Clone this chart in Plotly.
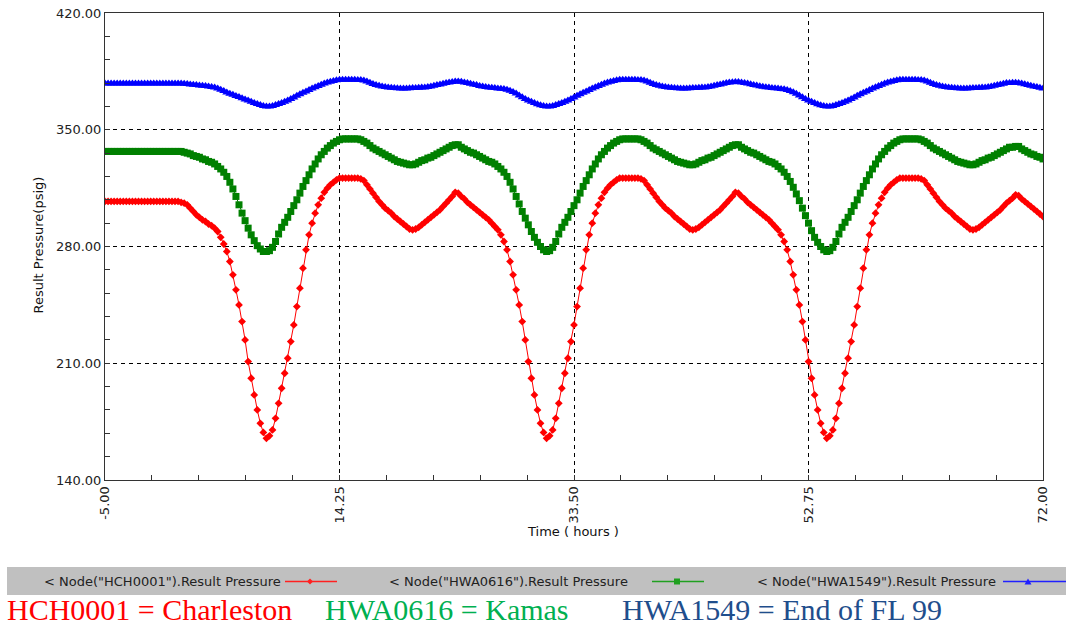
import plotly.graph_objects as go

# ---------------- data (0.25 h sampling) ----------------
T_START = -5.0
T_STEP = 0.25

# HCH0001 (red)
red_flat = [307, 307, 307, 307, 307, 307, 307, 307, 307, 307, 307, 307, 307,
            307, 307, 307, 307, 307, 307, 307, 307, 307, 307, 307, 307]
red_pre = [306.5, 306, 305, 303, 301, 299, 297.5, 296, 295, 293.5, 292.5, 291, 289,
           285.5, 281.5, 277, 271, 263, 254, 245, 235, 224, 211, 201, 191, 182, 174, 168.5]
red_day1 = [165, 166.5, 170, 177, 186, 195, 204, 213, 223, 233, 244, 255, 267, 278, 287, 294,
            300, 305, 309, 312.5, 315, 317, 318.5, 320, 321, 321, 321, 321, 321, 321, 321, 320.5,
            319.5, 317, 314.5, 312, 309.5, 307, 305, 303, 301.5, 300, 298, 296.5, 295, 293.5, 292, 290.5,
            290, 290.5, 291.5, 293, 294.5, 296, 297.5, 299, 300.5, 302, 304, 306, 308, 310, 312.5, 312,
            310, 308.5, 306.5, 305, 303.5, 302, 300.5, 299, 297.5, 296, 294, 292, 290, 287, 283, 278,
            271, 263, 254, 245, 235, 224, 211, 201, 191, 182, 174, 168.5]
red_day2 = [165, 166.5, 170, 177, 186, 195, 204, 213, 223, 233, 244, 255, 267, 278, 287, 294,
            300, 305, 309, 312.5, 315, 317, 318.5, 320, 321, 321, 321, 321, 321, 321, 321, 320.5,
            319.5, 317, 314.5, 312, 309.5, 307, 305, 303, 301.5, 300, 298, 296.5, 295, 293.5, 292, 290.5,
            290, 290.5, 291.5, 293, 294.5, 296, 297.5, 299, 300.5, 302, 304, 306, 308, 310, 312.5, 312,
            310, 308.5, 306.5, 305, 303.5, 302, 300.5, 299, 297.5, 296, 294, 292, 290, 287, 283, 278,
            271, 263, 254, 245, 235, 224, 211, 201, 191, 182, 174, 168.5]
red_day3 = [165, 166.5, 170, 177, 186, 195, 204, 213, 223, 233, 244, 255, 267, 278, 287, 294,
            300, 305, 309, 312.5, 315, 317, 318.5, 320, 321, 321, 321, 321, 321, 321, 321, 320.5,
            319.5, 317, 314.5, 312, 309.5, 307, 305, 303, 301.5, 300, 298, 296.5, 295, 293.5, 292, 290.5,
            290, 290.5, 291.5, 293, 294.5, 296, 297.5, 299, 300.5, 302, 304, 306, 307.5, 309, 311, 310.5,
            308.5, 307, 305.5, 304, 302.5, 301, 299.5, 298]

# HWA0616 (green)
green_flat = [337, 337, 337, 337, 337, 337, 337, 337, 337, 337, 337, 337, 337,
              337, 337, 337, 337, 337, 337, 337, 337, 337, 337, 337, 337]
green_pre = [337, 336.5, 336, 335.5, 334.5, 334, 333.5, 332.5, 332, 331, 330.5, 329.5, 328,
             326.5, 324.5, 322, 318.5, 314.5, 310, 305, 300, 295.5, 291, 287, 283.5, 280.5, 278.5, 277]
green_day1 = [277, 277.5, 279.5, 283, 287.5, 291.5, 294.5, 297.5, 301, 304.5, 308, 312, 316, 319.5, 323, 326.5,
              329.5, 332.5, 335, 337, 339, 340.5, 342, 343, 344, 344.5, 344.5, 344.5, 344.5, 344.5, 344.5, 344,
              343, 342, 340.5, 339, 338, 337, 336, 335, 334, 333, 332, 331, 330.5, 330, 329.5, 329,
              329, 329.5, 330.5, 331.5, 332, 333, 333.5, 334.5, 335.5, 336.5, 337.5, 338.5, 339.5, 340.5, 341, 341,
              339.5, 338.5, 337.5, 336.5, 336, 335, 334, 333, 332, 331, 330.5, 329.5, 328, 326.5, 324.5, 322,
              318.5, 314.5, 310, 305.5, 301, 297, 293, 289, 285.5, 282.5, 280, 278]
green_day2 = [277, 277.5, 279.5, 283, 287.5, 291.5, 294.5, 297.5, 301, 304.5, 308, 312, 316, 319.5, 323, 326.5,
              329.5, 332.5, 335, 337, 339, 340.5, 342, 343, 344, 344.5, 344.5, 344.5, 344.5, 344.5, 344.5, 344,
              343, 342, 340.5, 339, 338, 337, 336, 335, 334, 333, 332, 331, 330.5, 330, 329.5, 329,
              329, 329.5, 330.5, 331.5, 332, 333, 333.5, 334.5, 335.5, 336.5, 337.5, 338.5, 339.5, 340.5, 341, 341,
              339.5, 338.5, 337.5, 336.5, 336, 335, 334, 333, 332, 331, 330.5, 329.5, 328, 326.5, 324.5, 322,
              319, 315.5, 311.5, 307.5, 303, 298.5, 294, 289.5, 285.5, 282.5, 280, 278]
green_day3 = [277, 277.5, 279.5, 283, 287.5, 291.5, 294.5, 297.5, 301, 304.5, 308, 312, 316, 319.5, 323, 326.5,
              329.5, 332.5, 335, 337, 339, 340.5, 342, 343, 344, 344.5, 344.5, 344.5, 344.5, 344.5, 344.5, 344,
              343, 342, 340.5, 339, 338, 337, 336, 335, 334, 333, 332, 331, 330.5, 330, 329.5, 329,
              329, 329.5, 330.5, 331.5, 332, 333, 333.5, 334.5, 335.5, 336.5, 337.5, 338.5, 339.5, 339.5, 340, 340,
              338.5, 337.5, 336.5, 335.5, 335, 334, 333.5, 332.5]

# HWA1549 (blue)
blue_flat = [377.7, 377.7, 377.7, 377.7, 377.7, 377.7, 377.7, 377.7, 377.7, 377.7, 377.7, 377.7, 377.7,
             377.7, 377.7, 377.7, 377.7, 377.7, 377.7, 377.7, 377.7, 377.7, 377.7, 377.7, 377.7]
blue_pre = [377.7, 377.6, 377.4, 377.2, 377, 376.8, 376.6, 376.4, 376.2, 376, 375.7, 375.3, 374.7,
            374, 373.2, 372.4, 371.6, 371, 370.3, 369.6, 368.9, 368.2, 367.5, 366.8, 366.1, 365.4, 364.8, 364.3]
blue_day1 = [364, 364, 364.3, 364.8, 365.4, 366.1, 366.8, 367.6, 368.5, 369.4, 370.4, 371.3, 372.2, 373, 373.8, 374.7,
             375.5, 376.3, 377, 377.7, 378.3, 378.8, 379.3, 379.7, 380, 380, 380, 380, 380, 380, 379.9, 379.8,
             379.5, 378.9, 378.2, 377.5, 376.9, 376.4, 376, 375.7, 375.4, 375.2, 375, 374.9, 374.8, 374.8, 374.8, 374.9,
             375, 375.1, 375.2, 375.3, 375.4, 375.6, 376, 376.4, 376.8, 377.2, 377.6, 378, 378.4, 378.7, 378.9, 379,
             378.8, 378.4, 378, 377.6, 377.2, 376.8, 376.3, 376, 375.7, 375.4, 375.2, 375, 374.8, 374.6, 374.4, 374,
             373.4, 372.6, 371.7, 370.6, 369.5, 368.5, 367.6, 366.8, 366, 365.3, 364.7, 364.3]
blue_day2 = [364, 364, 364.3, 364.8, 365.4, 366.1, 366.8, 367.6, 368.5, 369.4, 370.4, 371.3, 372.2, 373, 373.8, 374.7,
             375.5, 376.3, 377, 377.7, 378.3, 378.8, 379.3, 379.7, 380, 380, 380, 380, 380, 380, 379.9, 379.8,
             379.5, 378.9, 378.2, 377.5, 376.9, 376.4, 376, 375.7, 375.4, 375.2, 375, 374.9, 374.8, 374.8, 374.8, 374.9,
             375, 375.1, 375.2, 375.3, 375.4, 375.6, 376, 376.4, 376.8, 377.2, 377.6, 378, 378.3, 378.5, 378.6, 378.6,
             378.4, 378.1, 377.7, 377.3, 376.9, 376.5, 376.1, 375.8, 375.5, 375.3, 375.1, 374.9, 374.7, 374.5, 374.3, 373.9,
             373.3, 372.5, 371.6, 370.6, 369.5, 368.5, 367.6, 366.8, 366, 365.3, 364.7, 364.3]
blue_day3 = [364, 364, 364.3, 364.8, 365.4, 366.1, 366.8, 367.6, 368.5, 369.4, 370.4, 371.3, 372.2, 373, 373.8, 374.7,
             375.5, 376.3, 377, 377.7, 378.3, 378.8, 379.3, 379.7, 380, 380, 380, 380, 380, 380, 379.9, 379.8,
             379.5, 378.9, 378.2, 377.5, 376.9, 376.4, 376, 375.7, 375.4, 375.2, 375, 374.9, 374.8, 374.8, 374.8, 374.9,
             375, 375.1, 375.2, 375.3, 375.4, 375.6, 376, 376.4, 376.8, 377.2, 377.6, 378, 378, 378.2, 378.2, 378.1,
             377.8, 377.3, 376.8, 376.4, 376, 375.6, 375.2, 374.8]

red = red_flat + red_pre + red_day1 + red_day2 + red_day3
green = green_flat + green_pre + green_day1 + green_day2 + green_day3
blue = blue_flat + blue_pre + blue_day1 + blue_day2 + blue_day3

series_names = ['< Node("HCH0001").Result Pressure',
                '< Node("HWA0616").Result Pressure',
                '< Node("HWA1549").Result Pressure']
x_tick_vals = [-5, 14.25, 33.5, 52.75, 72]
x_tick_text = ["-5.00", "14.25", "33.50", "52.75", "72.00"]
y_tick_vals = [140, 210, 280, 350, 420]
captions = ["HCH0001 = Charleston", "HWA0616 = Kamas", "HWA1549 = End of FL 99"]


def times_for(vals):
    return [T_START + T_STEP * i for i in range(len(vals))]


# ---------------- figure ----------------
W, H = 1066, 628
L, R, TOP, BOT = 105, 1043, 13, 480

fig = go.Figure()
fig.add_trace(go.Scatter(x=times_for(red), y=red, mode="lines+markers", name=series_names[0],
                         line=dict(color="#FF0000", width=1),
                         marker=dict(symbol="diamond", size=6, color="#FF0000", line=dict(width=0))))
fig.add_trace(go.Scatter(x=times_for(green), y=green, mode="lines+markers", name=series_names[1],
                         line=dict(color="#008000", width=1),
                         marker=dict(symbol="square", size=7, color="#008000", line=dict(width=0))))
fig.add_trace(go.Scatter(x=times_for(blue), y=blue, mode="lines+markers", name=series_names[2],
                         line=dict(color="#0000FF", width=1),
                         marker=dict(symbol="triangle-up", size=8, color="#0000FF", line=dict(width=0))))

tickfont = dict(family="DejaVu Sans", size=13, color="#222222")

fig.update_xaxes(range=[-5, 72], tickvals=x_tick_vals, ticktext=x_tick_text, tickangle=-90,
                 ticks="inside", ticklen=5, tickcolor="#333333", automargin=False,
                 showgrid=True, gridcolor="#000000", gridwidth=1, griddash="4px,4px",
                 showline=True, linecolor="#333333", linewidth=1, mirror=True, zeroline=False,
                 minor=dict(tick0=-5, dtick=3.85, ticks="inside", ticklen=5, tickcolor="#333333", showgrid=False),
                 tickfont=tickfont)
fig.update_yaxes(range=[140, 420], tickvals=y_tick_vals, tickformat=".2f",
                 ticks="inside", ticklen=5, tickcolor="#333333", automargin=False,
                 showgrid=True, gridcolor="#000000", gridwidth=1, griddash="4px,4px",
                 showline=True, linecolor="#333333", linewidth=1, mirror=True, zeroline=False,
                 minor=dict(tick0=140, dtick=14, ticks="inside", ticklen=5, tickcolor="#333333", showgrid=False),
                 tickfont=tickfont)


def px(xp):
    return (xp - L) / (R - L)


def py(yp):
    return (BOT - yp) / (BOT - TOP)


shapes = []
annotations = []

# axis titles
annotations.append(dict(x=px(28), y=py(245), xref="paper", yref="paper", text="Result Pressure(psig)",
                        textangle=-90, showarrow=False, font=dict(family="DejaVu Sans", size=13, color="#111111")))
annotations.append(dict(x=px(573), y=py(541), xref="paper", yref="paper", text="Time ( hours )",
                        showarrow=False, font=dict(family="DejaVu Sans", size=13, color="#111111")))

# legend band
shapes.append(dict(type="rect", xref="paper", yref="paper", x0=px(7), x1=px(1066), y0=py(595), y1=py(567),
                   fillcolor="#C0C0C0", line=dict(width=0), layer="below"))
leg_colors = ["#FF2020", "#20A020", "#2020FF"]
leg_text_x = [42, 387, 755]
leg_line = [(285, 337), (652, 704), (1003, 1066)]
leg_mark = [310, 677, 1028]
ly = 581.5
for i in range(3):
    annotations.append(dict(x=px(leg_text_x[i]), y=py(ly), xref="paper", yref="paper", text=series_names[i],
                            xanchor="left", yanchor="middle", showarrow=False,
                            font=dict(family="DejaVu Sans", size=13, color="#222222")))
    shapes.append(dict(type="line", xref="paper", yref="paper", x0=px(leg_line[i][0]), x1=px(leg_line[i][1]),
                       y0=py(ly), y1=py(ly), line=dict(color=leg_colors[i], width=1.5)))
m = leg_mark[0]
shapes.append(dict(type="path", xref="paper", yref="paper",
                   path=f"M {px(m-3)} {py(ly)} L {px(m)} {py(ly-3)} L {px(m+3)} {py(ly)} L {px(m)} {py(ly+3)} Z",
                   fillcolor=leg_colors[0], line=dict(width=0)))
m = leg_mark[1]
shapes.append(dict(type="rect", xref="paper", yref="paper", x0=px(m-3), x1=px(m+3), y0=py(ly+3), y1=py(ly-3),
                   fillcolor=leg_colors[1], line=dict(width=0)))
m = leg_mark[2]
shapes.append(dict(type="path", xref="paper", yref="paper",
                   path=f"M {px(m-3.5)} {py(ly+3)} L {px(m+3.5)} {py(ly+3)} L {px(m)} {py(ly-3)} Z",
                   fillcolor=leg_colors[2], line=dict(width=0)))

# caption line
cap_colors = ["#FF0000", "#00B050", "#1F4E8C"]
cap_x = [6, 324, 621]
for i in range(3):
    annotations.append(dict(x=px(cap_x[i]), y=py(627), xref="paper", yref="paper", text=captions[i],
                            xanchor="left", yanchor="bottom", showarrow=False, borderpad=0,
                            font=dict(family="Liberation Serif", size=30, color=cap_colors[i])))

fig.update_layout(width=W, height=H, margin=dict(l=L, r=W - R, t=TOP, b=H - BOT),
                  paper_bgcolor="white", plot_bgcolor="white", showlegend=False,
                  shapes=shapes, annotations=annotations)

fig.write_html("out.html")
